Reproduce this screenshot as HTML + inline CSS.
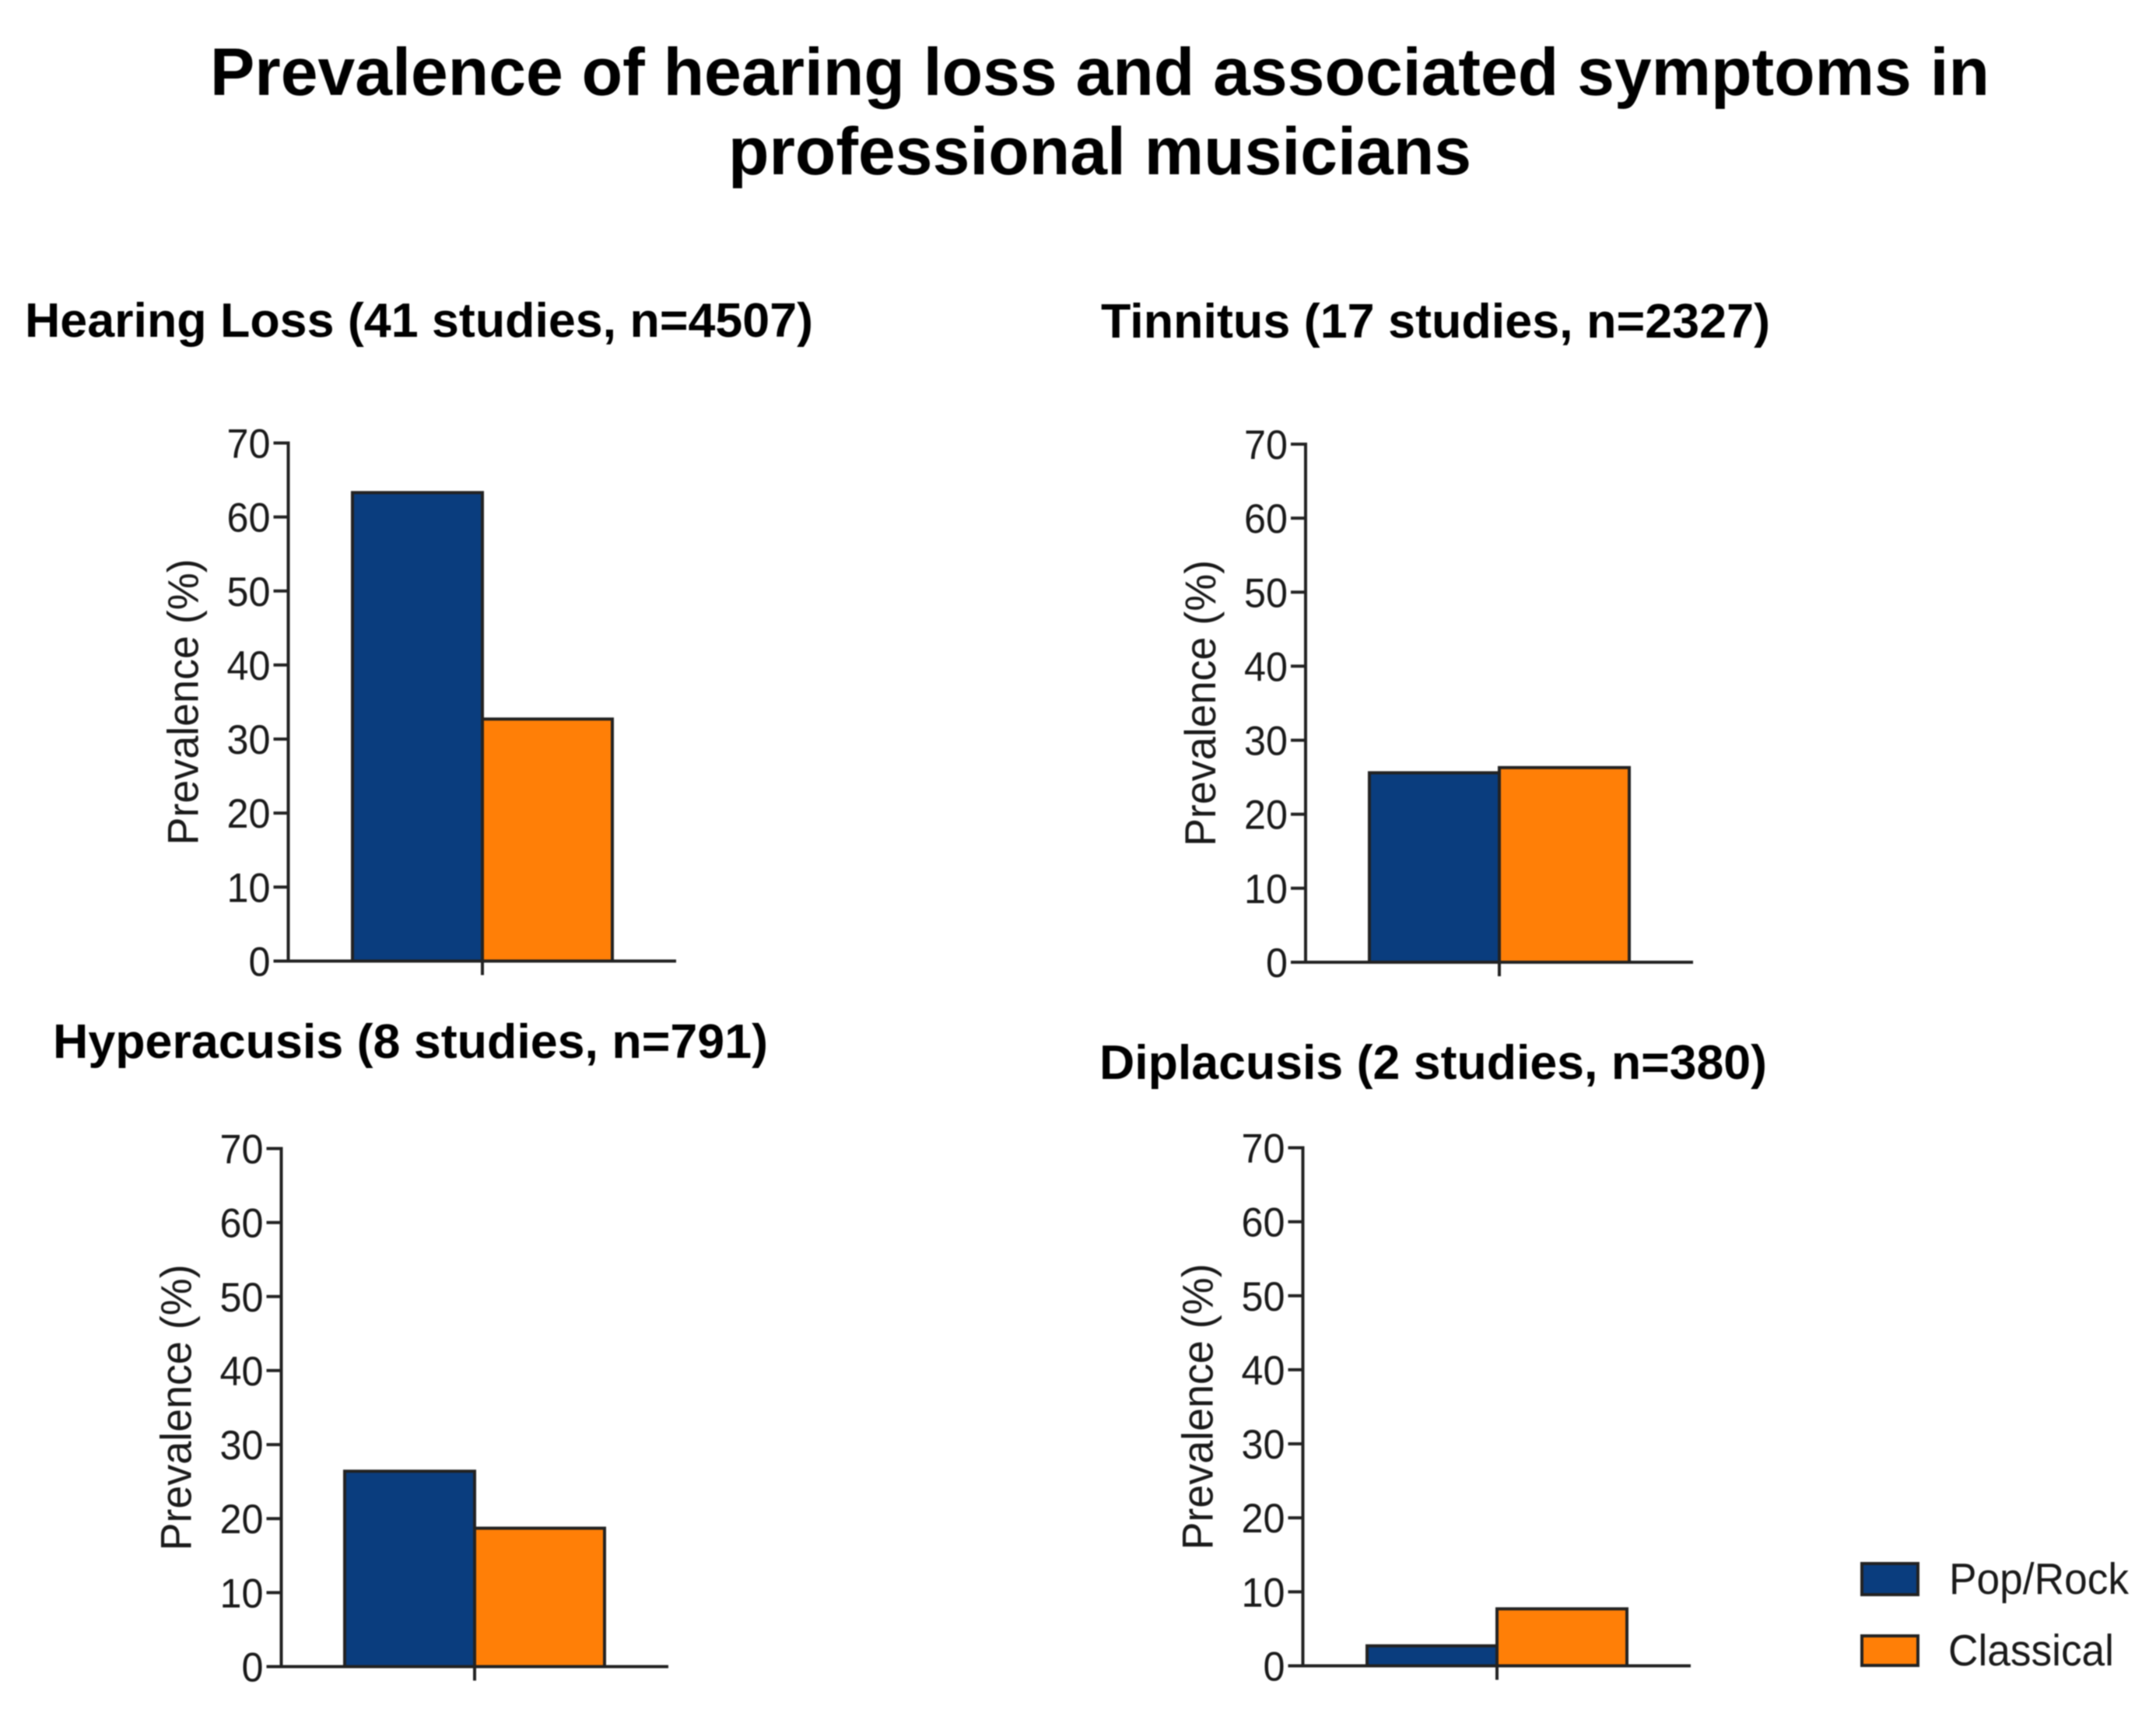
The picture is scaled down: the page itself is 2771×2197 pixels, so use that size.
<!DOCTYPE html>
<html lang="en">
<head>
<meta charset="utf-8">
<title>Prevalence of hearing loss and associated symptoms in professional musicians</title>
<style>
html,body{margin:0;padding:0;background:#fff;width:2771px;height:2197px;overflow:hidden}
svg{display:block;filter:blur(0.9px)}
text{font-family:"Liberation Sans",Arial,sans-serif;fill:#1a1a1a}
.main{font-weight:700;font-size:86px;fill:#000}
.sub{font-weight:700;font-size:62px;fill:#000}
.leg{font-size:57px}
</style>
</head>
<body>
<svg id="figure" xmlns="http://www.w3.org/2000/svg" width="2771" height="2197" viewBox="0 0 2771 2197">
  <rect width="2771" height="2197" fill="#fff"/>
  <text class="main" x="270" y="122" textLength="2287" lengthAdjust="spacingAndGlyphs">Prevalence of hearing loss and associated symptoms in</text>
  <text class="main" x="936" y="224" textLength="955" lengthAdjust="spacingAndGlyphs">professional musicians</text>
  <text class="sub" x="32" y="433" textLength="1013" lengthAdjust="spacingAndGlyphs">Hearing Loss (41 studies, n=4507)</text>
  <text class="sub" x="1415" y="434" textLength="860" lengthAdjust="spacingAndGlyphs">Tinnitus (17 studies, n=2327)</text>
  <text class="sub" x="68" y="1360" textLength="919" lengthAdjust="spacingAndGlyphs">Hyperacusis (8 studies, n=791)</text>
  <text class="sub" x="1413" y="1387" textLength="858" lengthAdjust="spacingAndGlyphs">Diplacusis (2 studies, n=380)</text>
  <g id="panels"></g>
  <g>
    <rect x="2393" y="2010" width="72" height="40" fill="#0a3d7e" stroke="#222" stroke-width="4"/>
    <text class="leg" x="2505" y="2049" textLength="231" lengthAdjust="spacingAndGlyphs">Pop/Rock</text>
    <rect x="2393" y="2103" width="72" height="38" fill="#ff7f07" stroke="#222" stroke-width="4"/>
    <text class="leg" x="2504" y="2141" textLength="213" lengthAdjust="spacingAndGlyphs">Classical</text>
  </g>
</svg>
<script>
const categories = ["Hearing Loss", "Tinnitus", "Hyperacusis", "Diplacusis"];
const popRockValues = [63.3, 25.6, 26.4, 2.7];
const classicalValues = [32.7, 26.3, 18.7, 7.7];
const yTickLabels = [0, 10, 20, 30, 40, 50, 60, 70];
const yAxisTitle = "Prevalence (%)";

const yMax = 70;
const plotHeight = 666;
const barWidth = 167;
const frames = [
  { axisX: 370.5, baseY: 1235.5, groupX: 620, endX: 869 },
  { axisX: 1678, baseY: 1237, groupX: 1927, endX: 2176 },
  { axisX: 361.5, baseY: 2142.5, groupX: 610, endX: 859 },
  { axisX: 1674.5, baseY: 2141.5, groupX: 1924, endX: 2173 }
];
const NS = "http://www.w3.org/2000/svg";
const panelsRoot = document.getElementById("panels");
const INK = "#222";

function yScale(frame, value) {
  return frame.baseY - (value / yMax) * plotHeight;
}
function shape(parent, tag, attrs) {
  const node = document.createElementNS(NS, tag);
  Object.keys(attrs).forEach(function (k) { node.setAttribute(k, attrs[k]); });
  parent.appendChild(node);
  return node;
}

categories.forEach(function (category, i) {
  const frame = frames[i];
  const slug = category.toLowerCase().replace(/\s+/g, "-");

  const g = shape(panelsRoot, "g", {});
  
  

  const popTop = yScale(frame, popRockValues[i]);
  const popBar = shape(g, "rect", { x: frame.groupX - barWidth, y: popTop, width: barWidth, height: frame.baseY - popTop, fill: "#0a3d7e", stroke: INK, "stroke-width": 4 });
  
  

  const clsTop = yScale(frame, classicalValues[i]);
  const clsBar = shape(g, "rect", { x: frame.groupX, y: clsTop, width: barWidth, height: frame.baseY - clsTop, fill: "#ff7f07", stroke: INK, "stroke-width": 4 });
  
  

  const yAxis = shape(g, "line", { x1: frame.axisX, x2: frame.axisX, y1: yScale(frame, yMax) - 2, y2: frame.baseY, stroke: INK, "stroke-width": 4 });
  
  

  const xAxis = shape(g, "line", { x1: frame.axisX - 19, x2: frame.endX, y1: frame.baseY, y2: frame.baseY, stroke: INK, "stroke-width": 4 });
  
  

  const xTick = shape(g, "line", { x1: frame.groupX, x2: frame.groupX, y1: frame.baseY, y2: frame.baseY + 18, stroke: INK, "stroke-width": 4 });
  
  

  yTickLabels.forEach(function (tick) {
    const ty = yScale(frame, tick);
    const tickMark = shape(g, "line", { x1: frame.axisX - 19, x2: frame.axisX, y1: ty, y2: ty, stroke: INK, "stroke-width": 4 });
    
    

    const tickText = shape(g, "text", { x: frame.axisX - 23, y: ty + 19, "text-anchor": "end", "font-size": 53, textLength: String(tick).length * 28, lengthAdjust: "spacingAndGlyphs" });
    tickText.textContent = tick;
    
    
  });

  const titleX = frame.axisX - 116;
  const titleY = frame.baseY - 333;
  const axisTitle = shape(g, "text", { x: titleX, y: titleY, "text-anchor": "middle", "font-size": 56, textLength: 368, lengthAdjust: "spacingAndGlyphs", transform: "rotate(-90 " + titleX + " " + titleY + ")" });
  axisTitle.textContent = yAxisTitle;
  
  
});
</script>
</body>
</html>
